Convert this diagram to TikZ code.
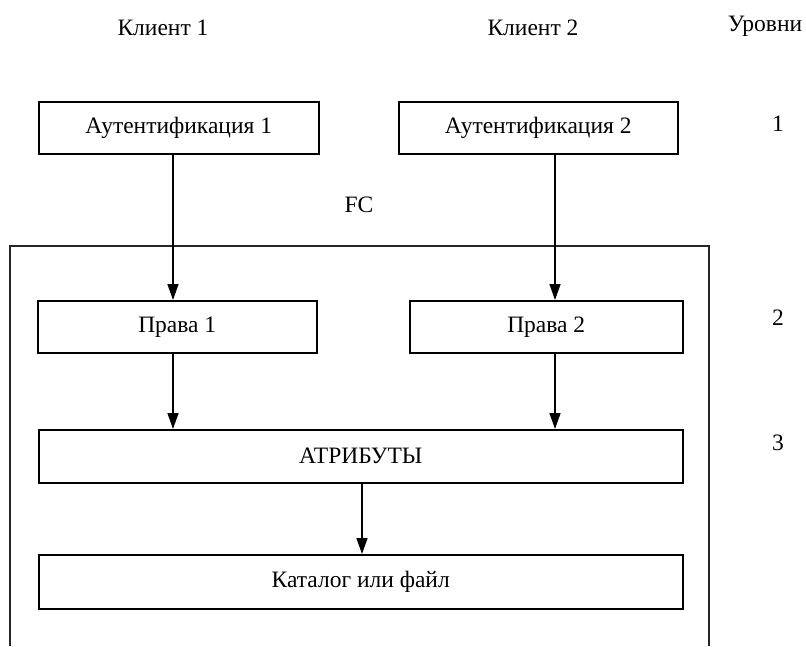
\documentclass[tikz,border=0pt]{standalone}
\usepackage{fontspec}
\setmainfont{Liberation Serif}
\usetikzlibrary{arrows.meta}
\begin{document}
\begin{tikzpicture}[x=1pt,y=-1pt,
  every node/.style={font=\fontsize{23.5}{28}\selectfont},
  block/.style={draw=black,line width=1.5pt,rectangle,inner sep=0pt,anchor=north west},
  label/.style={inner sep=0pt},
  arr/.style={line width=1.5pt,-{Triangle[width=11pt,length=16pt]}},
  frame/.style={draw=black!85,line width=1.2pt}]
  \useasboundingbox (0,0) rectangle (806,646);
  % column titles
  \node[label] (k1) at (163,28) {Клиент 1};
  \node[label] (k2) at (533,28) {Клиент 2};
  \node[label] (lv) at (765,26) {Уровни};
  % level numbers
  \node[label] (n1) at (778,124) {1};
  \node[label] (n2) at (778,318) {2};
  \node[label] (n3) at (778,443) {3};
  \node[label] (fc) at (359,205) {FC};
  % FC frame, open at the bottom
  \draw[frame] (10,646) -- (10,246) -- (709,246) -- (709,646);
  % boxes
  \node[block,minimum width=280pt,minimum height=52pt] (a1) at (38,101) {};
  \node at (a1.center) {Аутентификация 1};
  \node[block,minimum width=279pt,minimum height=52pt] (a2) at (398,101) {};
  \node at (a2.center) {Аутентификация 2};
  \node[block,minimum width=279pt,minimum height=52pt] (p1) at (37,300) {};
  \node at (p1.center) {Права 1};
  \node[block,minimum width=273pt,minimum height=52pt] (p2) at (409,300) {};
  \node at (p2.center) {Права 2};
  \node[block,minimum width=644pt,minimum height=53pt] (at) at (38,429) {};
  \node at (at.center) {АТРИБУТЫ};
  \node[block,minimum width=644pt,minimum height=54pt] (ct) at (38,554) {};
  \node at (ct.center) {Каталог или файл};
  % arrow columns
  \coordinate (c1) at (173,0);
  \coordinate (c2) at (555,0);
  \coordinate (c3) at (362,0);
  \draw[arr] (a1.south -| c1) -- (p1.north -| c1);
  \draw[arr] (a2.south -| c2) -- (p2.north -| c2);
  \draw[arr] (p1.south -| c1) -- (at.north -| c1);
  \draw[arr] (p2.south -| c2) -- (at.north -| c2);
  \draw[arr] (at.south -| c3) -- (ct.north -| c3);
\end{tikzpicture}
\end{document}
